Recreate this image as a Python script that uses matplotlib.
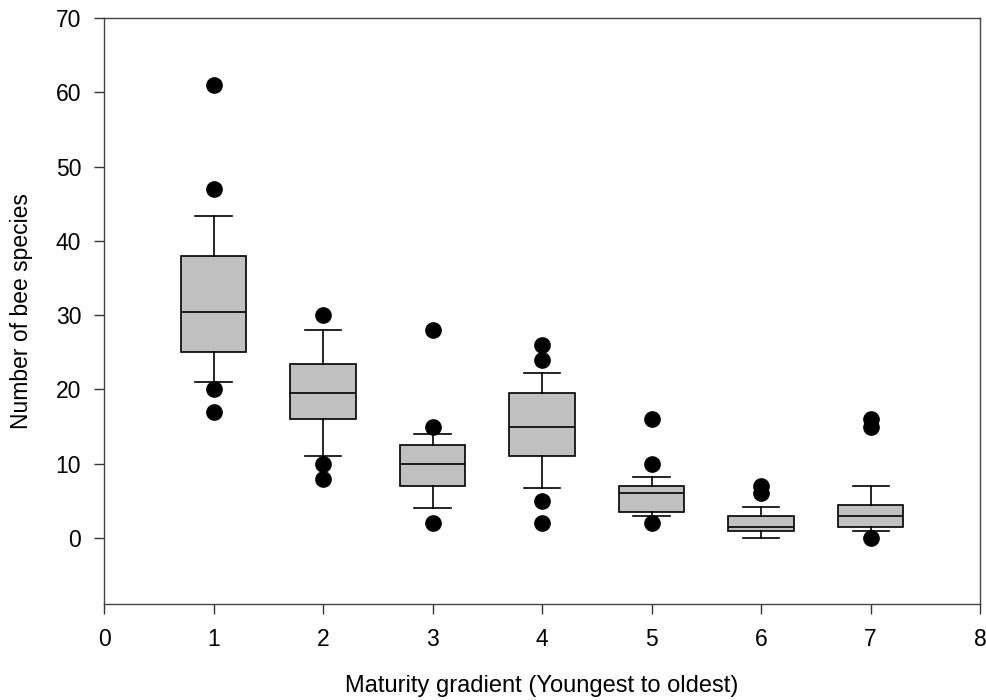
import matplotlib
matplotlib.use("Agg")
import matplotlib.pyplot as plt

plt.rcParams["font.family"] = ["Liberation Sans", "DejaVu Sans"]

# Maturity stage 1..7 (youngest to oldest)
stages = [1, 2, 3, 4, 5, 6, 7]
whisker_low = [21, 11, 4, 6.7, 3, 0, 0.9]
q1 = [25, 16, 7, 11, 3.5, 1, 1.5]
medians = [30.5, 19.5, 10, 15, 6, 1.5, 3]
q3 = [38, 23.5, 12.5, 19.5, 7, 3, 4.5]
whisker_high = [43.4, 28, 14, 22.2, 8.2, 4.2, 7]
outliers = [
    [61, 47, 20, 17],
    [30, 10, 8],
    [28, 15, 2],
    [26, 24, 5, 2],
    [16, 10, 2],
    [7, 6],
    [16, 15, 0],
]

stats = []
for i in range(len(stages)):
    stats.append({
        "med": medians[i],
        "q1": q1[i],
        "q3": q3[i],
        "whislo": whisker_low[i],
        "whishi": whisker_high[i],
        "fliers": outliers[i],
    })

fig = plt.figure(figsize=(9.86, 7.0), dpi=100)
ax = fig.add_axes([0.1055, 0.137, 0.8885, 0.837])

ax.bxp(
    stats,
    positions=stages,
    widths=0.6,
    patch_artist=True,
    manage_ticks=False,
    boxprops=dict(facecolor="#c0c0c0", edgecolor="black", linewidth=1.2),
    medianprops=dict(color="black", linewidth=1.2),
    whiskerprops=dict(color="black", linewidth=1.2),
    capprops=dict(color="black", linewidth=1.2),
    capwidths=0.33,
    flierprops=dict(marker="o", markerfacecolor="black", markeredgecolor="black", markersize=11),
)

ax.set_xlim(0, 8)
ax.set_ylim(-8.9, 70)
ax.set_xticks(range(0, 9))
ax.set_yticks(range(0, 71, 10))
ax.tick_params(direction="out", length=7, width=1, colors="#333333", labelcolor="black", labelsize=16.5)
ax.tick_params(axis="x", pad=10)
ax.tick_params(axis="y", pad=9.5)
for spine in ax.spines.values():
    spine.set_color("#444444")
    spine.set_linewidth(1)

ax.set_xlabel("Maturity gradient (Youngest to oldest)", fontsize=17, va="baseline")
ax.xaxis.set_label_coords(0.5, -0.150)
ax.set_ylabel("Number of bee species", fontsize=16.5, va="baseline", rotation_mode="anchor")
ax.yaxis.set_label_coords(-0.0868, 0.5)

fig.savefig("out.png", dpi=100)
